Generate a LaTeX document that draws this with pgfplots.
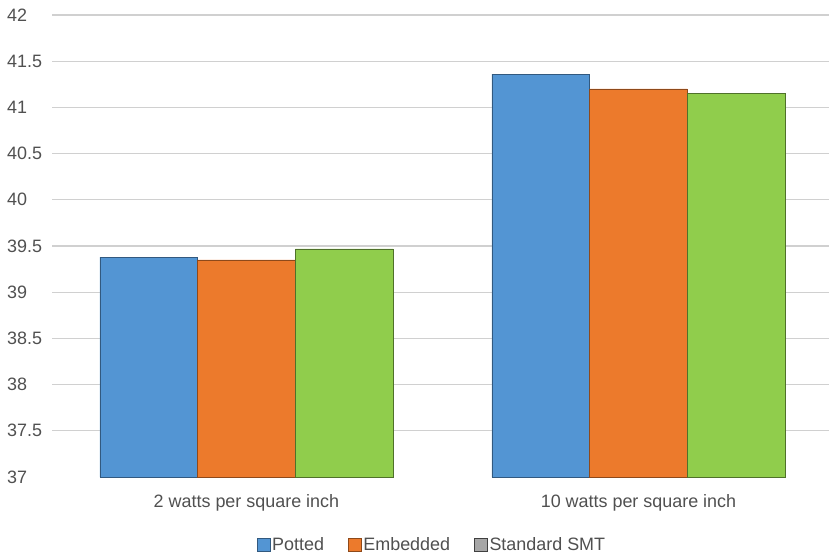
\documentclass[border=0pt]{standalone}
\usepackage{fontspec}
\setmainfont{Liberation Sans}
\usepackage{pgfplots}
\pgfplotsset{compat=1.18}

\definecolor{cblue}{HTML}{5395D3}
\definecolor{corange}{HTML}{EC7A2C}
\definecolor{cgreen}{HTML}{90CD4C}
\definecolor{cgrid}{HTML}{D0D0D0}
\definecolor{ctext}{HTML}{505050}

\begin{document}
\fontsize{18}{21}\selectfont
\begin{tikzpicture}
\begin{axis}[
  name=ax,
  scale only axis,
  width=777bp, height=462bp,
  ybar, bar width=97.7bp,
  xmin=-0.496, xmax=1.486,
  ymin=37, ymax=42,
  ytick={37.5,38,...,42},
  extra y ticks={37},
  extra y tick style={grid=none},
  xtick={0,1},
  xticklabels={2 watts per square inch, 10 watts per square inch},
  axis line style={draw=none},
  major tick length=0pt,
  ymajorgrids, grid style={cgrid, line width=1.2bp},
  tick label style={font=\fontsize{18}{21}\selectfont, text=ctext},
  /pgf/number format/assume math mode=true,
  yticklabel style={anchor=west, xshift=-51bp},
  xticklabel style={anchor=base, yshift=-30bp},
  legend columns=3,
  legend style={draw=none, at={(0.489,-0.147)}, anchor=center,
    font=\fontsize{18}{21}\selectfont, text=ctext,
    /tikz/every even column/.append style={column sep=22bp}},
  legend image code/.code={\draw[#1] (0bp,-6.5bp) rectangle (13bp,6.5bp);},
]
\addplot[fill=cblue, draw=cblue!60!black, bar shift=-97.7bp] coordinates {(0,39.38) (1,41.36)};
\addplot[fill=corange, draw=corange!60!black, bar shift=0bp] coordinates {(0,39.35) (1,41.20)};
\addplot[fill=cgreen, draw=cgreen!55!black, bar shift=97.7bp,
  legend image code/.code={\draw[fill=gray!70, draw=gray!50!black] (0bp,-6.5bp) rectangle (13bp,6.5bp);}]
  coordinates {(0,39.47) (1,41.15)};
\legend{Potted, Embedded, Standard SMT}
\end{axis}
\pgfresetboundingbox
\path ([xshift=-52bp,yshift=-80bp]ax.south west) rectangle ([yshift=15bp]ax.north east);
\end{tikzpicture}
\end{document}
